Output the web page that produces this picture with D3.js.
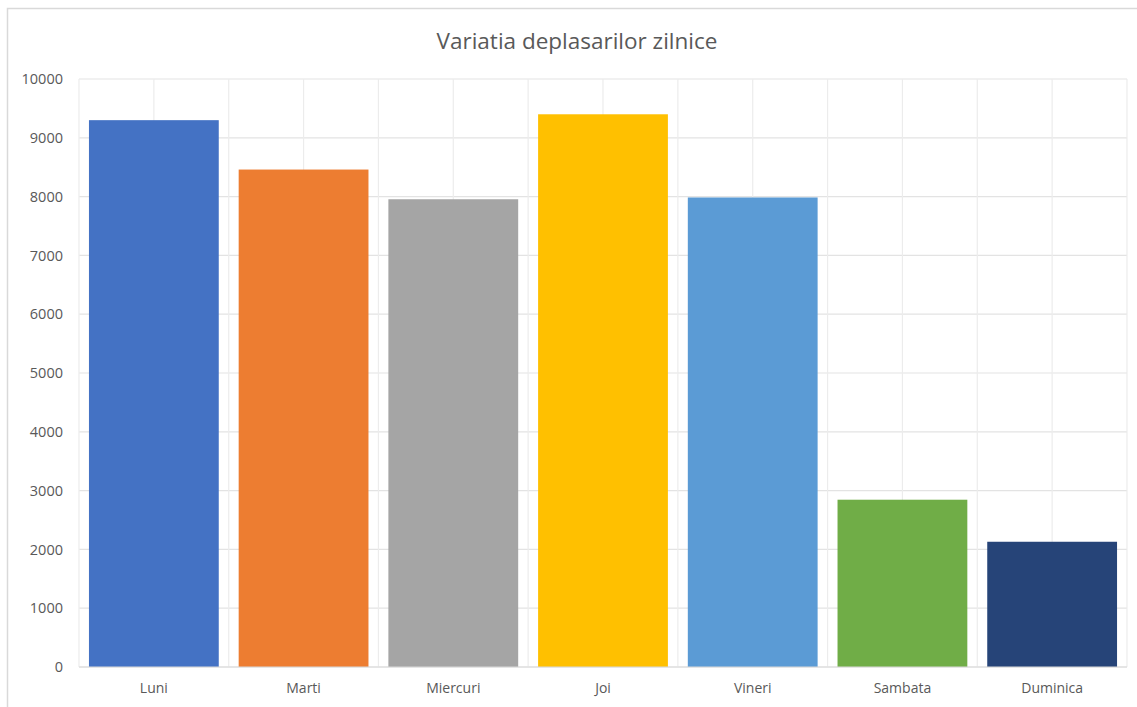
<!DOCTYPE html>
<html><head><meta charset="utf-8">
<script src="https://cdn.jsdelivr.net/npm/d3@7"></script>
<style>html,body{margin:0;padding:0;background:#fff;}svg{display:block;}</style>
</head><body>
<script>
const title = "Variatia deplasarilor zilnice";
const categories = ["Luni","Marti","Miercuri","Joi","Vineri","Sambata","Duminica"];
const values = [9300, 8460, 7955, 9400, 7985, 2845, 2130];
const colors = ["#4472C4","#ED7D31","#A5A5A5","#FFC000","#5B9BD5","#70AD47","#264478"];
const yTicks = [0,1000,2000,3000,4000,5000,6000,7000,8000,9000,10000];

const W = 1137, H = 707;
const m = {left:79, right:1127, top:79, bottom:667};
const svg = d3.select("body").append("svg").attr("width",W).attr("height",H);

// frame
svg.append("rect").attr("x",7.5).attr("y",8.5).attr("width",1140).attr("height",720)
  .attr("fill","#fff").attr("stroke","#d9d9d9").attr("stroke-width",1.5);

const x = d3.scaleBand().domain(categories).range([m.left,m.right]).paddingInner(0.133).paddingOuter(0.0665);
const y = d3.scaleLinear().domain([0,10000]).range([m.bottom,m.top]);

// horizontal gridlines
svg.append("g").selectAll("line").data(yTicks).join("line")
  .attr("x1",m.left).attr("x2",m.right).attr("y1",d=>y(d)).attr("y2",d=>y(d))
  .attr("stroke","#e3e3e3").attr("stroke-width",1.2);

// vertical gridlines at band edges and centers
const step = x.step();
const vg = [];
for (let k=0;k<=categories.length*2;k++) vg.push(m.left + k*step/2);
svg.append("g").selectAll("line").data(vg).join("line")
  .attr("x1",d=>d).attr("x2",d=>d).attr("y1",m.top).attr("y2",m.bottom)
  .attr("stroke","#ececec").attr("stroke-width",1.2);

// bars
svg.append("g").selectAll("rect").data(values).join("rect")
  .attr("x",(d,i)=>x(categories[i])).attr("width",x.bandwidth())
  .attr("y",d=>y(d)).attr("height",d=>y(0)-y(d))
  .attr("fill",(d,i)=>colors[i]);

// bottom axis line
svg.append("line").attr("x1",m.left).attr("x2",m.right).attr("y1",y(0)).attr("y2",y(0))
  .attr("stroke","#d9d9d9").attr("stroke-width",1.2);

// y axis labels
const yAxis = d3.axisLeft(y).tickValues(yTicks).tickSize(0).tickPadding(16).tickFormat(d3.format("d"));
const ga = svg.append("g").attr("transform",`translate(${m.left},0)`).call(yAxis);
ga.select(".domain").remove();
ga.selectAll("text").attr("font-family","'Open Sans', sans-serif").attr("font-size",14.5).attr("fill","#595959");

// x axis labels
const xAxis = d3.axisBottom(x).tickSize(0).tickPadding(16);
const gx = svg.append("g").attr("transform",`translate(0,${m.bottom})`).call(xAxis);
gx.select(".domain").remove();
gx.selectAll("text").attr("font-family","'Open Sans', sans-serif").attr("font-size",14).attr("fill","#595959");

// title
svg.append("text").attr("x",577).attr("y",49).attr("text-anchor","middle")
  .attr("font-family","'Open Sans', sans-serif").attr("font-size",22.5).attr("fill","#595959").text(title);
</script>
</body></html>
